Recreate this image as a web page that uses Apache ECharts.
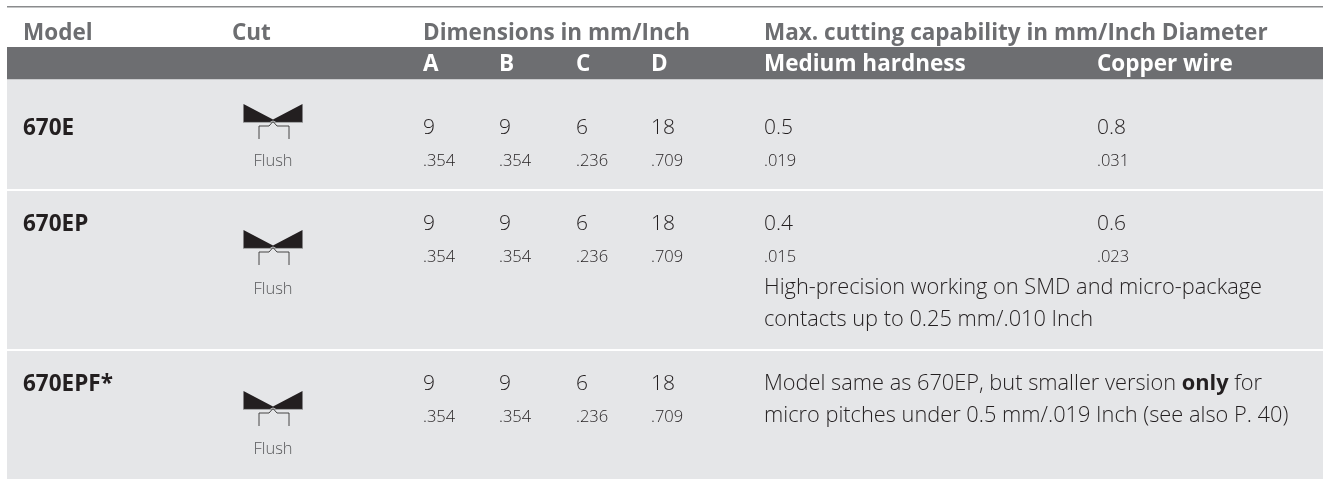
<!DOCTYPE html>
<html><head><meta charset="utf-8">
<style>html,body{margin:0;padding:0;background:#fff}#c{width:1323px;height:479px}</style>
<script src="https://cdn.jsdelivr.net/npm/echarts@6/dist/echarts.min.js"></script>
</head><body><div id="c"></div>
<script>
var groupHeaders = ['Model','Cut','Dimensions in mm/Inch','Max. cutting capability in mm/Inch Diameter'];
var subHeaders = ['A','B','C','D','Medium hardness','Copper wire'];
var models = ['670E','670EP','670EPF*'];
var cutLabel = 'Flush';
var dimMm = ['9','9','6','18'];
var dimInch = ['.354','.354','.236','.709'];
var mediumMm = ['0.5','0.4',null];
var mediumInch = ['.019','.015',null];
var copperMm = ['0.8','0.6',null];
var copperInch = ['.031','.023',null];
var notes = [
  [],
  ['High-precision working on SMD and micro-package','contacts up to 0.25 mm/.010 Inch'],
  ['{a|Model same as 670EP, but smaller version }{b|only}{a| for}','{a|micro pitches under 0.5 mm/.019 Inch (see also P. 40)}']
];

var FF = '"Open Sans", sans-serif';
var DARK = '#231f20', GREY = '#6d6e71', BAND = '#e5e6e8';
var colX = {model:23, cut:232, dim:[423,499,576,651], med:764, cop:1097, flush:273};
var rowTop = [79,191,351], rowBottom = [189,349,479];
var numBase = [134,230,390], inchBase = [166,262,422], modelBase = [135,231,391];
var iconTop = [104,230,391], flushBase = [166,294,454];
var noteBase = [[],[294,326],[390,422]];
var headBase = 40, subHeadBase = 71;

function txt(s,x,base,size,weight,fill,opt){
  opt = opt||{};
  var st = {text:s,x:0,y:0,font:weight+' '+size+'px '+FF,fill:fill,textAlign:opt.align||'left',textVerticalAlign:'middle'};
  if(opt.rich) st.rich = opt.rich;
  return {type:'text',x:x,y:base-size*0.265,scaleX:opt.sx||1,style:st,silent:true};
}
function icon(top){
  var c = colX.flush;
  return [
    {type:'polygon',shape:{points:[[c-29.5,top],[c,top+15.5],[c+29.5,top],[c+29.5,top+18],[c+3,top+18],[c,top+16.5],[c-3,top+18],[c-29.5,top+18]]},style:{fill:DARK}},
    {type:'line',shape:{x1:c-30,y1:top+18.4,x2:c+30,y2:top+18.4},style:{stroke:'#8a8b8d',lineWidth:0.8}},
    {type:'polyline',shape:{points:[[c-14,top+35],[c-14,top+22],[c-4,top+22],[c,top+17.5],[c+4,top+22],[c+16,top+22],[c+16,top+35]]},style:{stroke:'#333',lineWidth:0.9,fill:null}}
  ];
}
function renderRow(params){
  var i = params.dataIndex, ch = [];
  ch.push({type:'rect',shape:{x:7,y:rowTop[i],width:1316,height:rowBottom[i]-rowTop[i]},style:{fill:BAND}});
  ch.push(txt(models[i],colX.model,modelBase[i],22.5,700,DARK));
  ch = ch.concat(icon(iconTop[i]));
  ch.push(txt(cutLabel,colX.flush,flushBase[i],16.5,300,'#58595b',{align:'center'}));
  colX.dim.forEach(function(x,k){
    ch.push(txt(dimMm[k],x,numBase[i],21,300,DARK));
    ch.push(txt(dimInch[k],x,inchBase[i],16.5,300,DARK));
  });
  if(mediumMm[i]){
    ch.push(txt(mediumMm[i],colX.med,numBase[i],21,300,DARK));
    ch.push(txt(mediumInch[i],colX.med,inchBase[i],16.5,300,DARK));
    ch.push(txt(copperMm[i],colX.cop,numBase[i],21,300,DARK));
    ch.push(txt(copperInch[i],colX.cop,inchBase[i],16.5,300,DARK));
  }
  notes[i].forEach(function(line,k){
    var rich = {a:{font:'300 22px '+FF,fill:DARK},b:{font:'700 22px '+FF,fill:DARK}};
    ch.push(txt(line,colX.med,noteBase[i][k],22,300,DARK,{rich:rich,sx:0.99}));
  });
  return {type:'group',children:ch};
}
function renderHeader(){
  var ch = [];
  ch.push({type:'rect',shape:{x:7,y:6,width:1316,height:1.5},style:{fill:'#8a8b8d'}});
  ch.push({type:'rect',shape:{x:7,y:47,width:1316,height:32},style:{fill:GREY}});
  ch.push({type:'rect',shape:{x:7,y:79,width:1316,height:1},style:{fill:'#c9cacc'}});
  var hx = [colX.model,colX.cut,colX.dim[0],colX.med];
  groupHeaders.forEach(function(s,k){ ch.push(txt(s,hx[k],headBase,22.5,700,GREY)); });
  var sx = colX.dim.concat([colX.med,colX.cop]);
  subHeaders.forEach(function(s,k){ ch.push(txt(s,sx[k],subHeadBase,22.5,700,'#fff')); });
  return {type:'group',children:ch};
}
var chart = echarts.init(document.getElementById('c'),null,{renderer:'canvas'});
chart.setOption({
  animation:false,
  backgroundColor:'#fff',
  series:[
    {type:'custom',coordinateSystem:'none',data:models,renderItem:renderRow,silent:true,z:1},
    {type:'custom',coordinateSystem:'none',data:[groupHeaders[0]],renderItem:renderHeader,silent:true,z:2}
  ]
});
</script></body></html>
